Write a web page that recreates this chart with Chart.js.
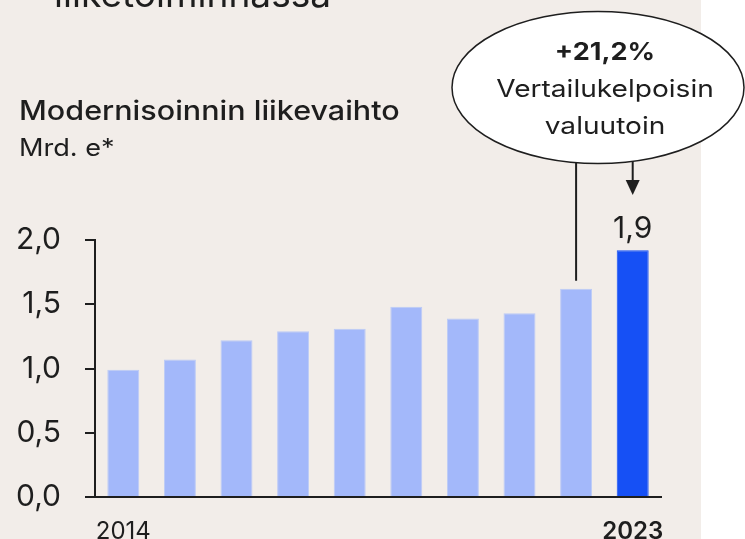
<!DOCTYPE html>
<html>
<head>
<meta charset="utf-8">
<script src="https://cdn.jsdelivr.net/npm/chart.js@4"></script>
<style>
  html, body { margin: 0; padding: 0; background: #ffffff; }
  #wrap { position: relative; width: 745px; height: 539px; overflow: hidden; }
  #panel { position: absolute; left: 0; top: 0; width: 701px; height: 539px; background: #f2ede9; }
  #revenueChart { position: absolute; left: 0; top: 0; }
</style>
</head>
<body>
<div id="wrap">
  <div id="panel"></div>
  <canvas id="revenueChart" width="745" height="539"></canvas>
</div>
<script>
const years = ["2014", "2015", "2016", "2017", "2018", "2019", "2020", "2021", "2022", "2023"];
const revenue = [0.99, 1.07, 1.22, 1.29, 1.31, 1.48, 1.39, 1.43, 1.62, 1.92];
const yTicks = [0, 0.5, 1.0, 1.5, 2.0];
const shownYears = ["2014", "2023"];

const headline = "liiketoiminnassa";
const title = "Modernisoinnin liikevaihto";
const unit = "Mrd. e*";
const calloutLines = ["+21,2%", "Vertailukelpoisin", "valuutoin"];

const ink = "#1e1e1e";
const FONT = "Inter, 'Noto Sans', sans-serif";
const fmt = (v) => v.toFixed(1).replace(".", ",");

// the original typeface is a bit wider than Inter, so stretch it a little
function drawText(ctx, str, x, y, font, align, sx) {
  ctx.save();
  ctx.font = font;
  ctx.textAlign = align;
  ctx.textBaseline = "alphabetic";
  ctx.translate(x, y);
  ctx.scale(sx, 1);
  ctx.fillText(str, 0, 0);
  ctx.restore();
}

const annotations = {
  id: "annotations",
  afterDraw(chart) {
    const ctx = chart.ctx;
    const bars = chart.getDatasetMeta(0).data;
    const prev = bars[bars.length - 2];
    const last = bars[bars.length - 1];

    ctx.save();
    ctx.fillStyle = ink;
    drawText(ctx, headline, 54, 7, "36px " + FONT, "left", 1.03);
    drawText(ctx, title, 19, 120, "500 27px " + FONT, "left", 1.13);
    drawText(ctx, unit, 19, 156, "24px " + FONT, "left", 1.13);

    // value label over last bar
    drawText(ctx, fmt(revenue[revenue.length - 1]), last.x, last.y - 12, "30px " + FONT, "center", 1);

    // leader line + arrow
    ctx.strokeStyle = ink;
    ctx.lineWidth = 2;
    ctx.beginPath();
    ctx.moveTo(prev.x, 150);
    ctx.lineTo(prev.x, prev.y - 8);
    ctx.moveTo(last.x, 150);
    ctx.lineTo(last.x, 182);
    ctx.stroke();
    ctx.beginPath();
    ctx.moveTo(last.x - 7, 180);
    ctx.lineTo(last.x + 7, 180);
    ctx.lineTo(last.x, 195);
    ctx.closePath();
    ctx.fill();

    // callout ellipse
    ctx.beginPath();
    ctx.ellipse(598, 87.5, 146, 76, 0, 0, Math.PI * 2);
    ctx.fillStyle = "#ffffff";
    ctx.fill();
    ctx.lineWidth = 1.5;
    ctx.stroke();

    ctx.fillStyle = ink;
    drawText(ctx, calloutLines[0], 605, 60, "bold 24px " + FONT, "center", 1.13);
    drawText(ctx, calloutLines[1], 605, 97, "24px " + FONT, "center", 1.17);
    drawText(ctx, calloutLines[2], 605, 134, "24px " + FONT, "center", 1.17);
    ctx.restore();
  },
};

new Chart(document.getElementById("revenueChart"), {
  type: "bar",
  data: {
    labels: years,
    datasets: [
      {
        data: revenue,
        backgroundColor: revenue.map((v, i) => (i === revenue.length - 1 ? "#1650f5" : "#a3b8fa")),
        borderColor: revenue.map((v, i) => (i === revenue.length - 1 ? "#1650f5" : "#bccbf6")),
        borderWidth: 1,
        borderSkipped: "bottom",
        categoryPercentage: 1,
        barPercentage: 0.565,
      },
    ],
  },
  options: {
    responsive: false,
    animation: false,
    events: [],
    layout: { padding: { top: 240, right: 84, left: 0, bottom: 0 } },
    plugins: { legend: { display: false }, tooltip: { enabled: false } },
    scales: {
      y: {
        min: 0,
        max: 2,
        afterFit: (scale) => { scale.width = 95; },
        afterBuildTicks: (scale) => { scale.ticks = yTicks.map((v) => ({ value: v })); },
        ticks: {
          padding: 24,
          color: ink,
          font: { family: FONT, size: 30 },
          callback: (value) => fmt(value),
        },
        grid: { drawOnChartArea: false, tickLength: 10, color: ink, lineWidth: 2 },
        border: { color: ink, width: 2 },
      },
      x: {
        afterFit: (scale) => { scale.height = 42; },
        ticks: {
          autoSkip: false,
          maxRotation: 0,
          padding: 12,
          color: ink,
          font: (c) => ({
            family: FONT,
            size: 24,
            weight: c.index === years.length - 1 ? "600" : "normal",
          }),
          callback: (value, index) => (shownYears.includes(years[index]) ? years[index] : ""),
        },
        grid: { display: false },
        border: { color: ink, width: 2 },
      },
    },
  },
  plugins: [annotations],
});
</script>
</body>
</html>
